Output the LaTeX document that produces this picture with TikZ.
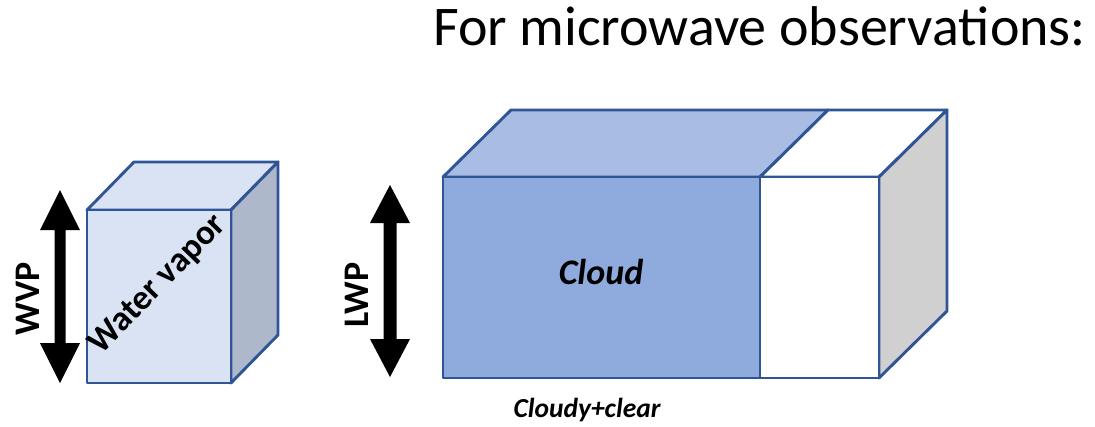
\documentclass[tikz,border=0pt]{standalone}
\usepackage{fontspec}
\setmainfont{Carlito}
\definecolor{bordc}{HTML}{2F5597}
\definecolor{wvfront}{HTML}{DAE3F3}
\definecolor{wvside}{HTML}{ADB9CA}
\definecolor{cldfront}{HTML}{8FAADC}
\definecolor{cldtop}{HTML}{A9BCE3}
\definecolor{clrside}{HTML}{D0D0D0}
\begin{document}
\begin{tikzpicture}[x=1pt,y=-1pt,
  face/.style={draw=bordc, line width=2.9pt, line join=round},
  blockarrow/.style={fill=black},
  lbl/.style={inner sep=0pt, font=\bfseries\fontsize{36}{40}\selectfont},
  ilbl/.style={inner sep=0pt, font=\bfseries\itshape\fontsize{36}{40}\selectfont}]
\useasboundingbox (0,0) rectangle (1095,426);
% left cube (water vapor)
\path[face, fill=wvfront] (87,210) -- (134,162) -- (278,162) -- (231,210) -- cycle;
\path[face, fill=wvside] (231,210) -- (278,162) -- (278,335) -- (231,383) -- cycle;
\path[face, fill=wvfront] (87,210) rectangle (231,383);
% big box: cloud part
\path[face, fill=cldtop] (443,177) -- (511,110) -- (828,110) -- (760,177) -- cycle;
\path[face, fill=white] (760,177) -- (828,110) -- (947,110) -- (879,177) -- cycle;
\path[face, fill=clrside] (879,177) -- (947,110) -- (947,311) -- (879,378) -- cycle;
\path[face, fill=white] (760,177) rectangle (879,378);
\path[face, fill=cldfront] (443,177) rectangle (760,378);
% WVP arrow
\fill[blockarrow] (60,190) -- (80,230) -- (65.5,230) -- (65.5,343) -- (80,343) -- (60,383)
  -- (40,343) -- (54.5,343) -- (54.5,230) -- (40,230) -- cycle;
% LWP arrow
\fill[blockarrow] (390,185) -- (410,223) -- (396.5,223) -- (396.5,339) -- (410,339) -- (390,377)
  -- (370,339) -- (383.5,339) -- (383.5,223) -- (370,223) -- cycle;
% texts
\node[inner sep=0pt, anchor=base east, font=\fontsize{56}{60}\selectfont] (title) at (1086,45) {For microwave observations:};
\node[lbl, rotate=90] (wvp) at (28,299) {WVP};
\node[lbl, rotate=90] (lwp) at (357,295) {LWP};
\node[lbl, rotate=46, font=\bfseries\fontsize{35}{38}\selectfont] (wv) at (158,285) {Water vapor};
\node[ilbl] (cloud) at (601,272) {Cloud};
\node[ilbl, font=\bfseries\itshape\fontsize{27.5}{30}\selectfont] (cc) at (587,410) {Cloudy+clear};
\end{tikzpicture}
\end{document}
